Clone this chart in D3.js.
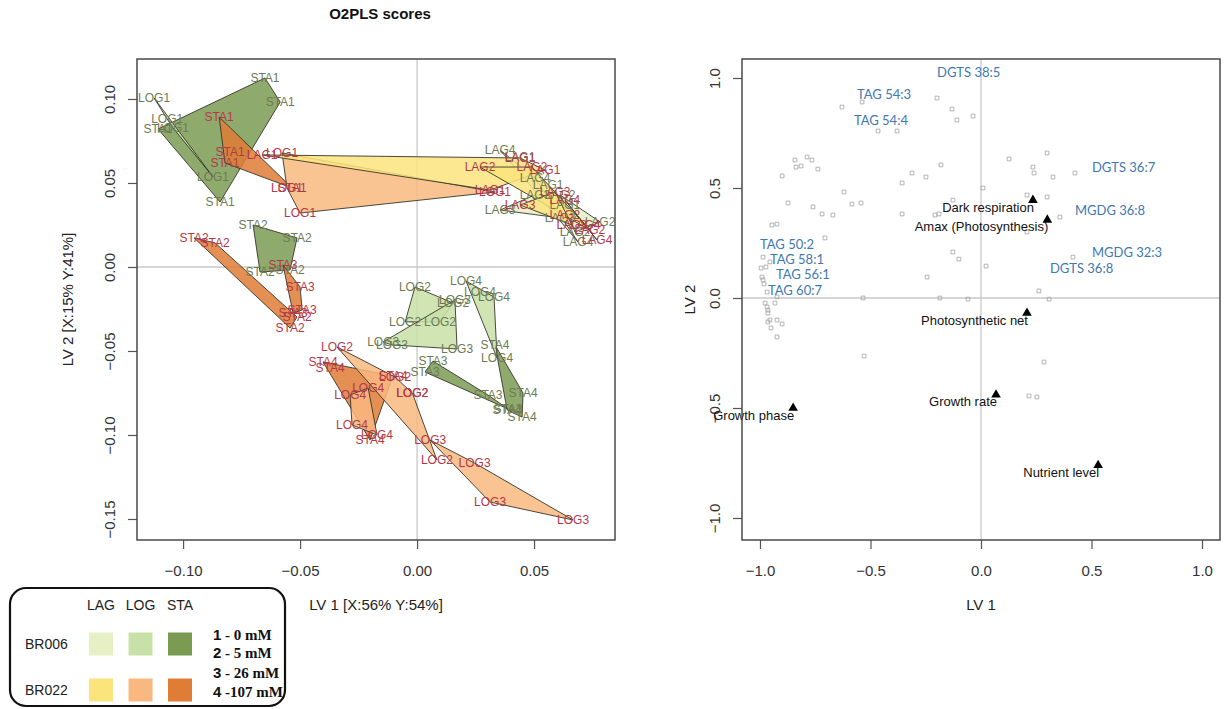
<!DOCTYPE html>
<html>
<head>
<meta charset="utf-8">
<script src="https://cdn.jsdelivr.net/npm/d3@7"></script>
<style>
  body { margin: 0; background: #fff; }
  svg { display: block; }
</style>
</head>
<body>
<svg id="chart" width="1230" height="709"></svg>
<script>
// ---------- O2PLS scores: samples [label, LV1, LV2] ----------
const br006Scores = [
  ["STA1", -0.0650, 0.1125], ["STA1", -0.0585, 0.0982], ["STA1", -0.0842, 0.0387], ["STA1", -0.1107, 0.0821],
  ["LOG1", -0.1124, 0.1006], ["LOG1", -0.1068, 0.0881], ["LOG1", -0.1043, 0.0827], ["LOG1", -0.0872, 0.0536],
  ["STA2", -0.0701, 0.0250], ["STA2", -0.0513, 0.0173], ["STA2", -0.0543, -0.0018], ["STA2", -0.0671, -0.0030],
  ["STA3", 0.0068, -0.0560], ["STA3", 0.0034, -0.0625], ["STA3", 0.0303, -0.0762], ["STA3", 0.0389, -0.0845],
  ["STA4", 0.0333, -0.0464], ["STA4", 0.0385, -0.0851], ["STA4", 0.0449, -0.0893], ["STA4", 0.0453, -0.0750],
  ["LOG4", 0.0209, -0.0083], ["LOG4", 0.0329, -0.0179], ["LOG4", 0.0342, -0.0542], ["LOG4", 0.0269, -0.0149],
  ["LOG2", -0.0009, -0.0119], ["LOG2", 0.0154, -0.0214], ["LOG2", 0.0098, -0.0327], ["LOG2", -0.0051, -0.0327],
  ["LOG3", -0.0145, -0.0446], ["LOG3", 0.0162, -0.0196], ["LOG3", 0.0171, -0.0488], ["LOG3", -0.0107, -0.0464],
  ["LAG1", 0.0440, 0.0655], ["LAG1", 0.0560, 0.0488], ["LAG1", 0.0632, 0.0369],
  ["LAG2", 0.0782, 0.0268], ["LAG2", 0.0611, 0.0429], ["LAG2", 0.0675, 0.0208],
  ["LAG3", 0.0355, 0.0339], ["LAG3", 0.0504, 0.0429], ["LAG3", 0.0611, 0.0292],
  ["LAG4", 0.0355, 0.0696], ["LAG4", 0.0504, 0.0530], ["LAG4", 0.0688, 0.0149]
];

const br022Scores = [
  ["STA1", -0.0846, 0.0893], ["STA1", -0.0799, 0.0685], ["STA1", -0.0821, 0.0619], ["STA1", -0.0534, 0.0470],
  ["LOG1", -0.0577, 0.0679], ["LOG1", -0.0556, 0.0470], ["LOG1", -0.0500, 0.0321], ["LOG1", 0.0333, 0.0446],
  ["LAG1", -0.0662, 0.0667], ["LAG1", 0.0440, 0.0649], ["LAG1", 0.0312, 0.0458], ["LAG1", 0.0547, 0.0577],
  ["LAG2", 0.0269, 0.0595], ["LAG2", 0.0491, 0.0595], ["LAG2", 0.0632, 0.0310], ["LAG2", 0.0739, 0.0220],
  ["LAG3", 0.0590, 0.0446], ["LAG3", 0.0440, 0.0369], ["LAG3", 0.0662, 0.0250],
  ["LAG4", 0.0769, 0.0161], ["LAG4", 0.0632, 0.0399], ["LAG4", 0.0718, 0.0250],
  ["STA2", -0.0953, 0.0173], ["STA2", -0.0863, 0.0143], ["STA2", -0.0513, -0.0298], ["STA2", -0.0543, -0.0363],
  ["STA3", -0.0573, 0.0012], ["STA3", -0.0500, -0.0119], ["STA3", -0.0491, -0.0256], ["STA3", -0.0530, -0.0274],
  ["STA4", -0.0402, -0.0565], ["STA4", -0.0103, -0.0649], ["STA4", -0.0201, -0.1030], ["STA4", -0.0372, -0.0601],
  ["LOG4", -0.0209, -0.0720], ["LOG4", -0.0286, -0.0762], ["LOG4", -0.0278, -0.0940], ["LOG4", -0.0171, -0.1000],
  ["LOG2", -0.0342, -0.0476], ["LOG2", -0.0094, -0.0655], ["LOG2", 0.0085, -0.1149], ["LOG2", -0.0021, -0.0750], ["LOG2", -0.0020, -0.0751],
  ["LOG3", 0.0056, -0.1030], ["LOG3", 0.0246, -0.1167], ["LOG3", 0.0667, -0.1506], ["LOG3", 0.0312, -0.1399]
];

const strains = ["BR006", "BR022"];
const phases = ["LAG", "LOG", "STA"];
const concLabels = ["1 - 0 mM", "2 - 5 mM", "3 - 26 mM", "4 -107 mM"];

const leftXTicks = [-0.10, -0.05, 0.00, 0.05];
const leftYTicks = [-0.15, -0.10, -0.05, 0.00, 0.05, 0.10];

// ---------- O2PLS loadings ----------
const lipidX = [-0.629, -0.199, -0.131, -0.109, -0.036, -0.466, -0.380, -0.538, 0.127, 0.299,
  0.235, 0.240, 0.326, 0.425, -0.181, -0.312, -0.249, -0.357, 0.009, 0.299,
  0.208, -0.127, -0.208, -0.190, -0.357, 0.357, -0.620, -0.584, -0.543, -0.760,
  -0.719, -0.670, -0.873, -0.900, -0.842, -0.837, -0.814, -0.787, -0.765, -0.738,
  -0.946, -0.923, -0.706, 0.208, -0.127, -0.100, 0.023, 0.416, -0.244, 0.262,
  -0.186, -0.059, 0.308, -0.534, -0.529, 0.285, 0.217, 0.253,
  -0.986, -0.973, -0.995, -0.991, -0.986, -0.982, -0.977, -0.968, -0.964, -0.964,
  -0.955, -0.932, -0.923, -0.964, -0.923, -0.900, -0.950, -0.923, -0.968, -0.955];
const lipidY = [0.868, 0.909, 0.859, 0.809, 0.827, 0.759, 0.759, 0.891, 0.632, 0.659,
  0.595, 0.568, 0.550, 0.568, 0.605, 0.568, 0.550, 0.523, 0.500, 0.459,
  0.468, 0.445, 0.377, 0.382, 0.382, 0.368, 0.482, 0.427, 0.432, 0.414,
  0.382, 0.377, 0.432, 0.555, 0.627, 0.595, 0.600, 0.641, 0.627, 0.586,
  0.332, 0.336, 0.273, 0.300, 0.209, 0.177, 0.145, 0.186, 0.095, 0.032,
  0.000, -0.005, -0.005, 0.000, -0.264, -0.291, -0.445, -0.450,
  0.186, 0.141, 0.136, 0.095, 0.082, 0.064, -0.023, -0.041, -0.055, -0.068,
  -0.100, -0.023, 0.005, -0.109, -0.100, -0.118, -0.136, -0.177, 0.027, 0.164];

const lipidNames = ["DGTS 38:5", "TAG 54:3", "TAG 54:4", "TAG 50:2", "TAG 58:1", "TAG 56:1",
  "TAG 60:7", "DGTS 36:7", "MGDG 36:8", "MGDG 32:3", "DGTS 36:8"];
const lipidLabelX = [-0.199, -0.561, -0.575, -1.000, -0.955, -0.928, -0.964, 0.502, 0.425, 0.502, 0.312];
const lipidLabelY = [1.027, 0.923, 0.805, 0.245, 0.177, 0.105, 0.036, 0.595, 0.400, 0.205, 0.136];

const traitNames = ["Dark respiration", "Amax (Photosynthesis)", "Photosynthetic net",
  "Growth phase", "Growth rate", "Nutrient level"];
const traitX = [0.235, 0.300, 0.208, -0.850, 0.068, 0.530];
const traitY = [0.445, 0.355, -0.068, -0.500, -0.440, -0.760];

const rightTicks = [-1.0, -0.5, 0.0, 0.5, 1.0];

// ---------- colours ----------
const fillColor = {
  BR006: { LAG: "#e6f0c4", LOG: "#c8e1a6", STA: "#7b9b53" },
  BR022: { LAG: "#fbe47c", LOG: "#f9b87f", STA: "#df7c36" }
};
const textColor = { BR006: "#6d7b55", BR022: "#b43848" };

// ---------- setup ----------
const svg = d3.select("#chart");
svg.append("rect").attr("width", 1230).attr("height", 709).attr("fill", "#fff");

const sans = "'Liberation Sans', Arial, Helvetica, sans-serif";
const plotTop = 59, plotBottom = 540;

const fmtMinus = s => s.replace("-", "\u2212");

function drawFrame(g, x, y, xTicks, yTicks, xFmt, yFmt) {
  const [x0, x1] = x.range();
  // zero reference lines
  g.append("line").attr("x1", x(0)).attr("x2", x(0)).attr("y1", plotTop).attr("y2", plotBottom)
    .attr("stroke", "#c9c9c9").attr("stroke-width", 1.3);
  g.append("line").attr("x1", x0).attr("x2", x1).attr("y1", y(0)).attr("y2", y(0))
    .attr("stroke", "#c9c9c9").attr("stroke-width", 1.3);

  const ax = g.append("g").attr("transform", `translate(0,${plotBottom})`)
    .call(d3.axisBottom(x).tickValues(xTicks).tickFormat(d => fmtMinus(xFmt(d)))
      .tickSize(9).tickSizeOuter(0).tickPadding(16));
  ax.select(".domain").remove();
  ax.selectAll("line").attr("stroke", "#555").attr("stroke-width", 1.2);
  ax.selectAll("text").attr("font-family", sans).attr("font-size", 15).attr("fill", "#333");

  const ay = g.append("g").attr("transform", `translate(${x0},0)`)
    .call(d3.axisLeft(y).tickValues(yTicks).tickFormat(d => fmtMinus(yFmt(d)))
      .tickSize(9).tickSizeOuter(0));
  ay.select(".domain").remove();
  ay.selectAll("line").attr("stroke", "#555").attr("stroke-width", 1.2);
  ay.selectAll("text")
    .attr("font-family", sans).attr("font-size", 15).attr("fill", "#333")
    .attr("transform", "rotate(-90)")
    .attr("x", 0).attr("y", -27).attr("dy", "0.35em")
    .style("text-anchor", "middle");
}

function drawBox(g, x) {
  const [x0, x1] = x.range();
  g.append("rect").attr("x", x0).attr("y", plotTop).attr("width", x1 - x0).attr("height", plotBottom - plotTop)
    .attr("fill", "none").attr("stroke", "#4a4a4a").attr("stroke-width", 1.5);
}

// ---------- left panel: scores ----------
const xL = d3.scaleLinear().domain([-0.1197, 0.0846]).range([137, 615]);
const yL = d3.scaleLinear().domain([-0.1625, 0.1238]).range([plotBottom, plotTop]);

const left = svg.append("g");
drawFrame(left, xL, yL, leftXTicks, leftYTicks, d3.format(".2f"), d3.format(".2f"));

const samples = [
  ...br006Scores.map(([label, a, b]) => ({ strain: "BR006", label, a, b })),
  ...br022Scores.map(([label, a, b]) => ({ strain: "BR022", label, a, b }))
];

// convex hull per strain / phase / concentration
const hullGroups = d3.groups(samples, d => d.strain, d => d.label);
const hullLayer = left.append("g");
hullGroups.forEach(([strain, byLabel]) => {
  byLabel.forEach(([label, pts]) => {
    const hull = d3.polygonHull(pts.map(p => [xL(p.a), yL(p.b)]));
    if (!hull) return;
    const phase = label.slice(0, 3);
    hullLayer.append("path")
      .attr("d", "M" + hull.join("L") + "Z")
      .attr("fill", fillColor[strain][phase])
      .attr("fill-opacity", 0.85)
      .attr("stroke", "#35352a")
      .attr("stroke-width", 0.9)
      .attr("stroke-linejoin", "round");
  });
});

left.append("g").selectAll("text").data(samples).join("text")
  .attr("x", d => xL(d.a)).attr("y", d => yL(d.b))
  .attr("dy", "0.35em")
  .attr("text-anchor", "middle")
  .attr("font-family", sans).attr("font-size", 12)
  .attr("fill", d => textColor[d.strain])
  .text(d => d.label);

drawBox(left, xL);

left.append("text").attr("x", 376).attr("y", 605).attr("dy", "0.35em")
  .attr("text-anchor", "middle").attr("font-family", sans).attr("font-size", 15).attr("fill", "#222")
  .text("LV 1 [X:56% Y:54%]");
left.append("text").attr("transform", `translate(68,${(plotTop + plotBottom) / 2}) rotate(-90)`)
  .attr("dy", "0.35em").attr("text-anchor", "middle")
  .attr("font-family", sans).attr("font-size", 15).attr("fill", "#222")
  .text("LV 2 [X:15% Y:41%]");

svg.append("text").attr("x", 380).attr("y", 14).attr("dy", "0.35em")
  .attr("text-anchor", "middle").attr("font-family", sans).attr("font-size", 15)
  .attr("font-weight", "bold").attr("fill", "#111")
  .text("O2PLS scores");

// ---------- right panel: loadings ----------
const xR = d3.scaleLinear().domain([-1.0814, 1.0814]).range([742, 1220]);
const yR = d3.scaleLinear().domain([-1.1, 1.0864]).range([plotBottom, plotTop]);

const right = svg.append("g");
drawFrame(right, xR, yR, rightTicks, rightTicks, d3.format(".1f"), d3.format(".1f"));

const square = d3.symbol().type(d3.symbolSquare).size(14);
right.append("g").selectAll("path").data(d3.range(lipidX.length)).join("path")
  .attr("d", square)
  .attr("transform", i => `translate(${xR(lipidX[i])},${yR(lipidY[i])})`)
  .attr("fill", "none").attr("stroke", "#ababab").attr("stroke-width", 0.9);

right.append("g").selectAll("text").data(lipidNames).join("text")
  .attr("x", (d, i) => xR(lipidLabelX[i]))
  .attr("y", (d, i) => yR(lipidLabelY[i]))
  .attr("dy", "0.35em")
  .attr("font-family", "Lato, 'Open Sans', sans-serif").attr("font-size", 13)
  .attr("fill", "#3f78b2")
  .text(d => d);

const tri = d3.symbol().type(d3.symbolTriangle).size(40);
right.append("g").selectAll("path").data(traitNames).join("path")
  .attr("d", tri)
  .attr("transform", (d, i) => `translate(${xR(traitX[i])},${yR(traitY[i])})`)
  .attr("fill", "#000");

right.append("g").selectAll("text").data(traitNames).join("text")
  .attr("x", (d, i) => xR(traitX[i]) + 1)
  .attr("y", (d, i) => yR(traitY[i]) + 7)
  .attr("dy", "0.35em")
  .attr("text-anchor", "end")
  .attr("font-family", sans).attr("font-size", 13).attr("fill", "#111")
  .text(d => d);

drawBox(right, xR);

right.append("text").attr("x", 981).attr("y", 605).attr("dy", "0.35em")
  .attr("text-anchor", "middle").attr("font-family", sans).attr("font-size", 15).attr("fill", "#222")
  .text("LV 1");
right.append("text").attr("transform", `translate(690,${(plotTop + plotBottom) / 2}) rotate(-90)`)
  .attr("dy", "0.35em").attr("text-anchor", "middle")
  .attr("font-family", sans).attr("font-size", 15).attr("fill", "#222")
  .text("LV 2");

// ---------- legend ----------
const legend = svg.append("g");
const colX = d3.scalePoint().domain(phases).range([101, 180]);
const rowY = d3.scalePoint().domain(strains).range([644, 690]);

legend.append("rect").attr("x", 10).attr("y", 588).attr("width", 275).attr("height", 118)
  .attr("rx", 16).attr("fill", "#fff");

legend.selectAll("text.phase").data(phases).join("text").attr("class", "phase")
  .attr("x", d => colX(d)).attr("y", 605).attr("dy", "0.35em").attr("text-anchor", "middle")
  .attr("font-family", sans).attr("font-size", 14).attr("fill", "#222").text(d => d);

legend.selectAll("text.strain").data(strains).join("text").attr("class", "strain")
  .attr("x", 25).attr("y", d => rowY(d)).attr("dy", "0.35em")
  .attr("font-family", sans).attr("font-size", 14).attr("fill", "#222").text(d => d);

strains.forEach(s => {
  legend.append("g").selectAll("rect").data(phases).join("rect")
    .attr("x", p => colX(p) - 12).attr("y", rowY(s) - 11.5)
    .attr("width", 24).attr("height", 23)
    .attr("fill", p => fillColor[s][p]);
});

const concY = [635, 653, 673, 692];
legend.selectAll("text.conc").data(concLabels).join("text").attr("class", "conc")
  .attr("x", 213).attr("y", (d, i) => concY[i]).attr("dy", "0.35em")
  .attr("font-weight", "bold").attr("font-size", 15).attr("fill", "#111")
  .each(function (d) {
    const t = d3.select(this);
    t.append("tspan").attr("font-family", sans).text(d.slice(0, 1));
    t.append("tspan").attr("font-family", "'Liberation Serif', 'Times New Roman', serif").text(d.slice(1));
  });

legend.append("rect").attr("x", 10).attr("y", 588).attr("width", 275).attr("height", 118)
  .attr("rx", 16).attr("fill", "none").attr("stroke", "#111").attr("stroke-width", 2.2);
</script>
</body>
</html>
